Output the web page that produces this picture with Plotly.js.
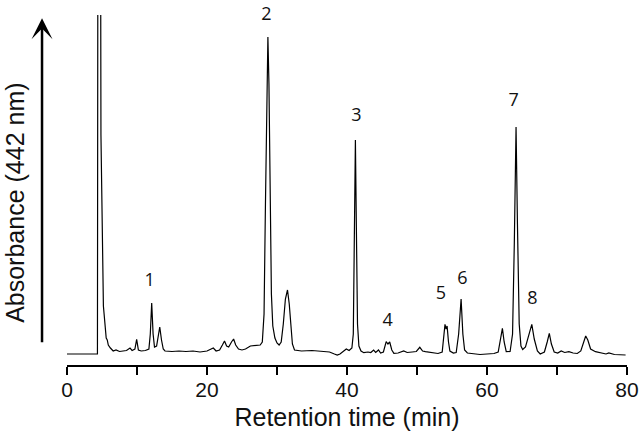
<!DOCTYPE html>
<html>
<head>
<meta charset="utf-8">
<script src="https://cdn.plot.ly/plotly-3.0.1.min.js"></script>
<style>
  html, body { margin: 0; padding: 0; background: #fff; }
  #graph { width: 641px; height: 448px; }
</style>
</head>
<body>
<div id="graph"></div>
<script>
// retention time (min)
const times = [
    0, 4.35, 4.42, 4.78, 4.85, 5.1, 5.2, 5.3, 5.45, 5.6, 5.75, 5.9, 6.2, 6.6,
    7.0, 7.5, 8.0, 8.5, 9.0, 9.3, 9.7, 9.95, 10.2, 10.6, 11.2, 11.7, 11.9, 12.1, 12.3, 12.5,
    12.8, 13.05, 13.25, 13.5, 13.75, 14.0, 15.0, 16.0, 17.0, 18.0, 19.0, 20.0, 20.9, 21.3,
    21.8, 22.2, 22.5, 22.8, 23.1, 23.5, 23.8, 24.1, 24.5, 25.0, 25.5, 26.2, 27.0, 27.6,
    27.9, 28.15, 28.35, 28.55, 28.7, 28.85, 29.0, 29.2, 29.4, 29.7, 30.0, 30.3, 30.6, 30.9,
    31.2, 31.5, 31.75, 32.0, 32.2, 32.5, 33.5, 35.0, 36.5, 37.5, 38.2, 38.6, 39.0, 39.5,
    39.9, 40.3, 40.7, 40.9, 41.05, 41.2, 41.35, 41.5, 41.7, 42.0, 42.4, 43.0, 43.4, 43.8,
    44.1, 44.5, 44.8, 45.2, 45.6, 45.85, 46.1, 46.4, 46.7, 47.3, 48.1, 48.6, 49.3, 49.9,
    50.4, 50.8, 51.2, 52.2, 53.0, 53.6, 53.85, 54.0, 54.15, 54.3, 54.5, 54.7, 55.2, 55.6,
    55.95, 56.3, 56.55, 56.8, 57.2, 58.0, 59.0, 60.0, 61.0, 61.6, 61.95, 62.2, 62.45, 62.75,
    63.3, 63.65, 63.9, 64.15, 64.35, 64.6, 64.85, 65.1, 65.5, 66.0, 66.4, 66.75, 67.2, 67.6,
    68.2, 68.6, 68.9, 69.2, 69.6, 70.1, 70.6, 71.1, 71.7, 72.3, 72.9, 73.4, 73.8, 74.1,
    74.4, 74.8, 75.5, 76.3, 77.0, 77.4, 78.2, 79.8
];
// absorbance (arbitrary units, solvent front runs off scale)
const absorbance = [
    0, 0, 500, 500, 219, 54, 48, 40, 22, 16, 14, 9, 6, 3,
    4, 2.5, 3, 3.5, 6, 3.5, 5, 14.7, 4, 3, 3.5, 5, 20, 51, 20, 7,
    8, 18, 27, 14, 5, 3, 2.5, 3, 2.5, 3, 2, 3, 6, 3,
    4, 9, 13, 8, 7, 12, 15, 9, 5, 4, 5, 8, 9, 9,
    12, 40, 150, 280, 317, 270, 160, 60, 28, 16, 11, 9, 12, 30,
    55, 64, 50, 25, 10, 4, 3, 3.5, 3, 2, 0, -1, 0, 3,
    5, 3.5, 6, 20, 100, 214, 120, 30, 8, 3, 1.3, 2, 1.5, 4,
    1.5, 4, 1, 2, 12.3, 10, 12, 4, 0.7, 1, 3, 1.5, 2, 2.5,
    6.7, 3, 2.3, 1, 0.5, 2, 18, 29.7, 25, 28, 12, 3, 1, 1.5,
    20, 55, 20, 4, 1, 0, -0.5, 0, 0.5, 2, 15, 25.7, 12, 2.3,
    2.5, 20, 110, 227, 130, 30, 8, 4.5, 7, 20, 29.7, 15, 3, 0,
    2, 12, 20.7, 10, 2, 1, 3, 1.5, 2.3, 1, 0.5, 3, 12, 18,
    14, 5, 2.3, 1, 0, 1, -0.5, -1
];

const peakLabels = ["1", "2", "3", "4", "5", "6", "7", "8"];
const labelTimes = [11.8, 28.5, 41.35, 45.8, 53.4, 56.5, 63.8, 66.5];
const labelAbs = [73, 339, 238, 33, 60, 75, 253, 55];

const tickVals = [0, 10, 20, 30, 40, 50, 60, 70, 80];
const tickText = ["0", "", "20", "", "40", "", "60", "", "80"];

const axisFont = "Liberation Sans, Arial, sans-serif";

const chromatogram = {
    x: times,
    y: absorbance,
    mode: "lines",
    type: "scatter",
    line: { color: "#000", width: 1.2 },
    hoverinfo: "skip"
};

const peakText = {
    x: labelTimes,
    y: labelAbs,
    text: peakLabels,
    mode: "text",
    type: "scatter",
    textposition: "middle center",
    cliponaxis: false,
    textfont: { family: "Open Sans, sans-serif", size: 18, color: "#111" },
    hoverinfo: "skip"
};

const layout = {
    width: 641,
    height: 448,
    margin: { l: 67, r: 14, t: 15, b: 83 },
    paper_bgcolor: "#fff",
    plot_bgcolor: "#fff",
    showlegend: false,
    xaxis: {
        range: [0, 80],
        tickvals: tickVals,
        ticktext: tickText,
        ticks: "outside",
        ticklen: 8,
        tickwidth: 2,
        tickcolor: "#000",
        ticklabelstandoff: -3,
        showline: true,
        linewidth: 2,
        linecolor: "#000",
        showgrid: false,
        zeroline: false,
        tickfont: { family: axisFont, size: 21, color: "#111" },
        title: {
            text: "Retention time (min)",
            font: { family: axisFont, size: 25, color: "#111" },
            standoff: 8
        }
    },
    yaxis: {
        range: [-11, 339],
        visible: false
    },
    annotations: [
        {
            xref: "paper", yref: "paper",
            x: -0.0446, y: 0.991,
            ax: 0, ay: 334,
            showarrow: true,
            arrowhead: 3,
            arrowsize: 1.4,
            arrowwidth: 2.5,
            arrowcolor: "#000",
            standoff: 0
        },
        {
            xref: "paper", yref: "paper",
            x: -0.093, y: 0.463,
            text: "Absorbance (442 nm)",
            textangle: -90,
            showarrow: false,
            xanchor: "center", yanchor: "middle",
            font: { family: axisFont, size: 25, color: "#111" }
        }
    ]
};

Plotly.newPlot("graph", [chromatogram, peakText], layout, { displayModeBar: false, staticPlot: true });
</script>
</body>
</html>
